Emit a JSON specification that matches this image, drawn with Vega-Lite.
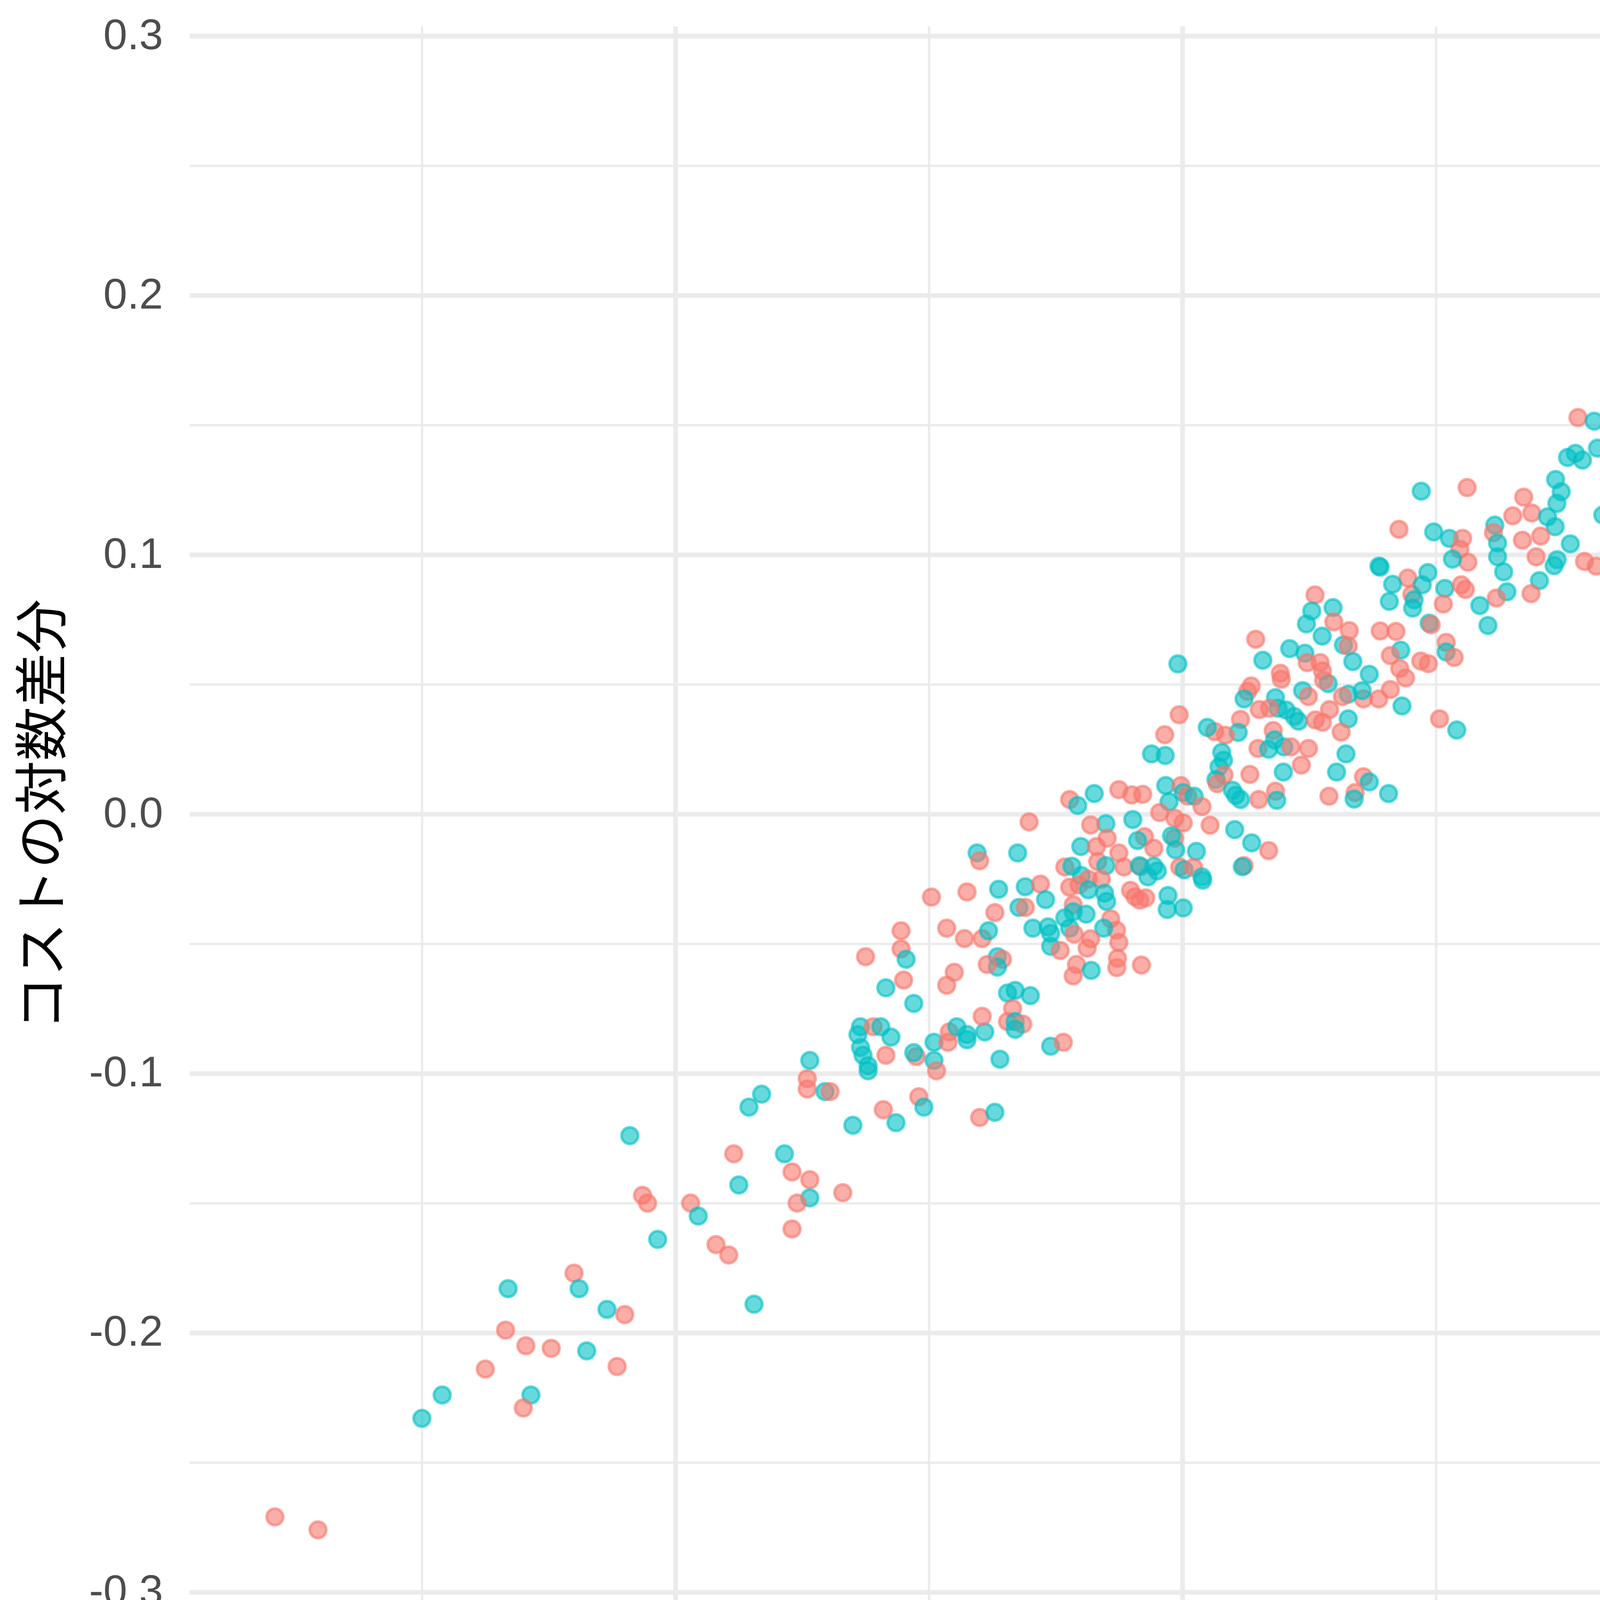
{
  "$schema": "https://vega.github.io/schema/vega-lite/v6.json",
  "description": "Scatter of log-differenced sales vs cost, large vs small firms.",
  "width": 4859,
  "height": 4036,
  "autosize": {"type": "none"},
  "padding": {"left": 485, "top": 67, "right": 956, "bottom": 397},
  "background": "white",
  "config": {
    "view": {"stroke": null},
    "axis": {
      "domain": false,
      "ticks": false,
      "gridColor": "#EBEBEB",
      "labelFont": "Liberation Sans",
      "labelFontSize": 110,
      "labelColor": "#4D4D4D",
      "labelLimit": 0,
      "titleFont": "Noto Sans CJK JP",
      "titleFontSize": 138,
      "titleFontWeight": "normal",
      "titleColor": "#000000"
    }
  },
  "data": {
    "values": [
      {"x": -0.218, "y": -0.124, "g": "小企業"},
      {"x": -0.213, "y": -0.147, "g": "大企業"},
      {"x": -0.211, "y": -0.150, "g": "大企業"},
      {"x": -0.194, "y": -0.150, "g": "大企業"},
      {"x": -0.191, "y": -0.155, "g": "小企業"},
      {"x": -0.207, "y": -0.164, "g": "小企業"},
      {"x": -0.240, "y": -0.177, "g": "大企業"},
      {"x": -0.238, "y": -0.183, "g": "小企業"},
      {"x": -0.266, "y": -0.183, "g": "小企業"},
      {"x": -0.227, "y": -0.191, "g": "小企業"},
      {"x": -0.220, "y": -0.193, "g": "大企業"},
      {"x": -0.267, "y": -0.199, "g": "大企業"},
      {"x": -0.259, "y": -0.205, "g": "大企業"},
      {"x": -0.249, "y": -0.206, "g": "大企業"},
      {"x": -0.235, "y": -0.207, "g": "小企業"},
      {"x": -0.275, "y": -0.214, "g": "大企業"},
      {"x": -0.223, "y": -0.213, "g": "大企業"},
      {"x": -0.292, "y": -0.224, "g": "小企業"},
      {"x": -0.257, "y": -0.224, "g": "小企業"},
      {"x": -0.260, "y": -0.229, "g": "大企業"},
      {"x": -0.300, "y": -0.233, "g": "小企業"},
      {"x": -0.358, "y": -0.271, "g": "大企業"},
      {"x": -0.341, "y": -0.276, "g": "大企業"},
      {"x": -0.111, "y": -0.045, "g": "大企業"},
      {"x": -0.111, "y": -0.052, "g": "大企業"},
      {"x": -0.109, "y": -0.056, "g": "小企業"},
      {"x": -0.110, "y": -0.064, "g": "大企業"},
      {"x": -0.125, "y": -0.055, "g": "大企業"},
      {"x": -0.117, "y": -0.067, "g": "小企業"},
      {"x": -0.106, "y": -0.073, "g": "小企業"},
      {"x": -0.127, "y": -0.082, "g": "小企業"},
      {"x": -0.128, "y": -0.085, "g": "小企業"},
      {"x": -0.122, "y": -0.082, "g": "大企業"},
      {"x": -0.119, "y": -0.082, "g": "小企業"},
      {"x": -0.115, "y": -0.086, "g": "小企業"},
      {"x": -0.127, "y": -0.090, "g": "小企業"},
      {"x": -0.126, "y": -0.093, "g": "小企業"},
      {"x": -0.124, "y": -0.097, "g": "小企業"},
      {"x": -0.124, "y": -0.099, "g": "小企業"},
      {"x": -0.117, "y": -0.093, "g": "大企業"},
      {"x": -0.105, "y": -0.0935, "g": "大企業"},
      {"x": -0.106, "y": -0.092, "g": "小企業"},
      {"x": -0.104, "y": -0.109, "g": "大企業"},
      {"x": -0.147, "y": -0.095, "g": "小企業"},
      {"x": -0.148, "y": -0.102, "g": "大企業"},
      {"x": -0.148, "y": -0.106, "g": "大企業"},
      {"x": -0.141, "y": -0.107, "g": "小企業"},
      {"x": -0.139, "y": -0.107, "g": "大企業"},
      {"x": -0.166, "y": -0.108, "g": "小企業"},
      {"x": -0.171, "y": -0.113, "g": "小企業"},
      {"x": -0.130, "y": -0.120, "g": "小企業"},
      {"x": -0.118, "y": -0.114, "g": "大企業"},
      {"x": -0.113, "y": -0.119, "g": "小企業"},
      {"x": -0.177, "y": -0.131, "g": "大企業"},
      {"x": -0.157, "y": -0.131, "g": "小企業"},
      {"x": -0.154, "y": -0.138, "g": "大企業"},
      {"x": -0.147, "y": -0.141, "g": "大企業"},
      {"x": -0.175, "y": -0.143, "g": "小企業"},
      {"x": -0.147, "y": -0.148, "g": "小企業"},
      {"x": -0.152, "y": -0.150, "g": "大企業"},
      {"x": -0.134, "y": -0.146, "g": "大企業"},
      {"x": -0.154, "y": -0.160, "g": "大企業"},
      {"x": -0.184, "y": -0.166, "g": "大企業"},
      {"x": -0.179, "y": -0.170, "g": "大企業"},
      {"x": -0.169, "y": -0.189, "g": "小企業"},
      {"x": -0.102, "y": -0.113, "g": "小企業"},
      {"x": -0.098, "y": -0.095, "g": "小企業"},
      {"x": -0.097, "y": -0.099, "g": "大企業"},
      {"x": -0.098, "y": -0.088, "g": "小企業"},
      {"x": -0.092, "y": -0.084, "g": "大企業"},
      {"x": -0.0925, "y": -0.088, "g": "大企業"},
      {"x": -0.089, "y": -0.082, "g": "小企業"},
      {"x": -0.085, "y": -0.085, "g": "小企業"},
      {"x": -0.085, "y": -0.087, "g": "小企業"},
      {"x": -0.078, "y": -0.084, "g": "小企業"},
      {"x": -0.079, "y": -0.078, "g": "大企業"},
      {"x": -0.072, "y": -0.0945, "g": "小企業"},
      {"x": -0.080, "y": -0.117, "g": "大企業"},
      {"x": -0.074, "y": -0.115, "g": "小企業"},
      {"x": -0.099, "y": -0.032, "g": "大企業"},
      {"x": -0.093, "y": -0.044, "g": "大企業"},
      {"x": -0.090, "y": -0.061, "g": "大企業"},
      {"x": -0.093, "y": -0.066, "g": "大企業"},
      {"x": -0.086, "y": -0.048, "g": "大企業"},
      {"x": -0.079, "y": -0.048, "g": "大企業"},
      {"x": -0.0765, "y": -0.045, "g": "小企業"},
      {"x": -0.085, "y": -0.030, "g": "大企業"},
      {"x": -0.081, "y": -0.015, "g": "小企業"},
      {"x": -0.080, "y": -0.018, "g": "大企業"},
      {"x": -0.0605, "y": -0.003, "g": "大企業"},
      {"x": -0.065, "y": -0.015, "g": "小企業"},
      {"x": -0.074, "y": -0.038, "g": "大企業"},
      {"x": -0.0725, "y": -0.029, "g": "小企業"},
      {"x": -0.062, "y": -0.028, "g": "小企業"},
      {"x": -0.056, "y": -0.027, "g": "大企業"},
      {"x": -0.054, "y": -0.033, "g": "小企業"},
      {"x": -0.0645, "y": -0.036, "g": "小企業"},
      {"x": -0.062, "y": -0.036, "g": "大企業"},
      {"x": -0.059, "y": -0.044, "g": "小企業"},
      {"x": -0.053, "y": -0.0435, "g": "小企業"},
      {"x": -0.052, "y": -0.046, "g": "小企業"},
      {"x": -0.052, "y": -0.051, "g": "小企業"},
      {"x": -0.073, "y": -0.055, "g": "小企業"},
      {"x": -0.071, "y": -0.056, "g": "大企業"},
      {"x": -0.073, "y": -0.059, "g": "小企業"},
      {"x": -0.077, "y": -0.058, "g": "大企業"},
      {"x": -0.069, "y": -0.069, "g": "小企業"},
      {"x": -0.066, "y": -0.068, "g": "小企業"},
      {"x": -0.060, "y": -0.070, "g": "小企業"},
      {"x": -0.067, "y": -0.075, "g": "大企業"},
      {"x": -0.069, "y": -0.080, "g": "大企業"},
      {"x": -0.066, "y": -0.080, "g": "小企業"},
      {"x": -0.063, "y": -0.081, "g": "大企業"},
      {"x": -0.066, "y": -0.083, "g": "小企業"},
      {"x": -0.052, "y": -0.0895, "g": "小企業"},
      {"x": -0.047, "y": -0.088, "g": "大企業"},
      {"x": -0.0018, "y": 0.0579, "g": "小企業"},
      {"x": 0.0423, "y": 0.0638, "g": "小企業"},
      {"x": 0.0483, "y": 0.062, "g": "小企業"},
      {"x": 0.0492, "y": 0.0584, "g": "大企業"},
      {"x": 0.0543, "y": 0.0584, "g": "大企業"},
      {"x": 0.0552, "y": 0.0552, "g": "大企業"},
      {"x": 0.0635, "y": 0.0652, "g": "小企業"},
      {"x": 0.0654, "y": 0.0648, "g": "大企業"},
      {"x": 0.0861, "y": 0.0632, "g": "小企業"},
      {"x": 0.082, "y": 0.0611, "g": "大企業"},
      {"x": 0.0857, "y": 0.0561, "g": "大企業"},
      {"x": 0.088, "y": 0.0525, "g": "大企業"},
      {"x": 0.0317, "y": 0.0593, "g": "小企業"},
      {"x": 0.0386, "y": 0.0543, "g": "大企業"},
      {"x": 0.039, "y": 0.052, "g": "大企業"},
      {"x": 0.0672, "y": 0.0588, "g": "小企業"},
      {"x": 0.0737, "y": 0.0539, "g": "小企業"},
      {"x": 0.082, "y": 0.048, "g": "大企業"},
      {"x": 0.0866, "y": 0.0417, "g": "小企業"},
      {"x": 0.0774, "y": 0.0444, "g": "大企業"},
      {"x": 0.0714, "y": 0.0444, "g": "大企業"},
      {"x": 0.0709, "y": 0.0476, "g": "小企業"},
      {"x": 0.0654, "y": 0.0462, "g": "小企業"},
      {"x": 0.0631, "y": 0.0453, "g": "大企業"},
      {"x": 0.0575, "y": 0.0503, "g": "小企業"},
      {"x": 0.0557, "y": 0.0516, "g": "大企業"},
      {"x": 0.0474, "y": 0.0476, "g": "小企業"},
      {"x": 0.0497, "y": 0.0453, "g": "大企業"},
      {"x": 0.0367, "y": 0.0449, "g": "小企業"},
      {"x": 0.0377, "y": 0.0408, "g": "小企業"},
      {"x": 0.0409, "y": 0.0401, "g": "小企業"},
      {"x": 0.0441, "y": 0.0376, "g": "小企業"},
      {"x": 0.0458, "y": 0.0358, "g": "小企業"},
      {"x": 0.058, "y": 0.0403, "g": "大企業"},
      {"x": 0.0524, "y": 0.0363, "g": "大企業"},
      {"x": 0.0552, "y": 0.0354, "g": "大企業"},
      {"x": 0.0654, "y": 0.0367, "g": "小企業"},
      {"x": 0.0626, "y": 0.0316, "g": "大企業"},
      {"x": 0.0271, "y": 0.0494, "g": "大企業"},
      {"x": 0.0257, "y": 0.0473, "g": "大企業"},
      {"x": 0.0243, "y": 0.0444, "g": "小企業"},
      {"x": 0.0303, "y": 0.0403, "g": "大企業"},
      {"x": 0.0344, "y": 0.0408, "g": "大企業"},
      {"x": 0.0229, "y": 0.0365, "g": "大企業"},
      {"x": 0.022, "y": 0.0315, "g": "小企業"},
      {"x": 0.0169, "y": 0.0304, "g": "大企業"},
      {"x": 0.0127, "y": 0.0318, "g": "大企業"},
      {"x": 0.0098, "y": 0.0334, "g": "小企業"},
      {"x": -0.0013, "y": 0.0383, "g": "大企業"},
      {"x": -0.007, "y": 0.0306, "g": "大企業"},
      {"x": -0.0122, "y": 0.0232, "g": "小企業"},
      {"x": -0.0068, "y": 0.0226, "g": "小企業"},
      {"x": 0.0358, "y": 0.0322, "g": "大企業"},
      {"x": 0.0363, "y": 0.0286, "g": "小企業"},
      {"x": 0.0298, "y": 0.0253, "g": "大企業"},
      {"x": 0.034, "y": 0.025, "g": "小企業"},
      {"x": 0.04, "y": 0.0259, "g": "小企業"},
      {"x": 0.0428, "y": 0.0259, "g": "大企業"},
      {"x": 0.0497, "y": 0.0253, "g": "大企業"},
      {"x": 0.0469, "y": 0.0189, "g": "大企業"},
      {"x": 0.0398, "y": 0.0162, "g": "小企業"},
      {"x": 0.0645, "y": 0.0232, "g": "小企業"},
      {"x": 0.0608, "y": 0.0162, "g": "小企業"},
      {"x": 0.0714, "y": 0.0144, "g": "大企業"},
      {"x": 0.0737, "y": 0.0124, "g": "小企業"},
      {"x": 0.0813, "y": 0.0079, "g": "小企業"},
      {"x": 0.0578, "y": 0.0069, "g": "大企業"},
      {"x": 0.0681, "y": 0.0083, "g": "大企業"},
      {"x": 0.0677, "y": 0.0058, "g": "小企業"},
      {"x": 0.0266, "y": 0.0153, "g": "大企業"},
      {"x": 0.0155, "y": 0.0238, "g": "小企業"},
      {"x": 0.0162, "y": 0.0208, "g": "小企業"},
      {"x": 0.0144, "y": 0.0182, "g": "小企業"},
      {"x": 0.0164, "y": 0.0151, "g": "大企業"},
      {"x": 0.0132, "y": 0.0133, "g": "小企業"},
      {"x": 0.0137, "y": 0.0117, "g": "大企業"},
      {"x": 0.0197, "y": 0.0092, "g": "小企業"},
      {"x": 0.021, "y": 0.0072, "g": "小企業"},
      {"x": 0.0229, "y": 0.0056, "g": "小企業"},
      {"x": 0.0301, "y": 0.0056, "g": "大企業"},
      {"x": 0.0367, "y": 0.0088, "g": "大企業"},
      {"x": 0.0372, "y": 0.0053, "g": "小企業"},
      {"x": -0.0348, "y": 0.0079, "g": "小企業"},
      {"x": -0.0445, "y": 0.0056, "g": "大企業"},
      {"x": -0.0413, "y": 0.0033, "g": "小企業"},
      {"x": -0.0251, "y": 0.0094, "g": "大企業"},
      {"x": -0.02, "y": 0.0074, "g": "大企業"},
      {"x": -0.0157, "y": 0.0076, "g": "大企業"},
      {"x": -0.0066, "y": 0.011, "g": "小企業"},
      {"x": -0.0006, "y": 0.011, "g": "大企業"},
      {"x": 0.0003, "y": 0.0083, "g": "小企業"},
      {"x": 0.0021, "y": 0.0069, "g": "大企業"},
      {"x": 0.0046, "y": 0.0069, "g": "小企業"},
      {"x": -0.0053, "y": 0.0047, "g": "小企業"},
      {"x": 0.0077, "y": 0.0029, "g": "大企業"},
      {"x": -0.009, "y": 0.0006, "g": "大企業"},
      {"x": -0.003, "y": -0.0016, "g": "大企業"},
      {"x": 0.0003, "y": -0.0034, "g": "大企業"},
      {"x": 0.0109, "y": -0.0043, "g": "大企業"},
      {"x": 0.0206, "y": -0.006, "g": "小企業"},
      {"x": 0.0273, "y": -0.0111, "g": "小企業"},
      {"x": 0.034, "y": -0.0141, "g": "大企業"},
      {"x": 0.0243, "y": -0.0199, "g": "大企業"},
      {"x": 0.0236, "y": -0.0203, "g": "小企業"},
      {"x": -0.0196, "y": -0.0021, "g": "小企業"},
      {"x": -0.0302, "y": -0.0037, "g": "小企業"},
      {"x": -0.0362, "y": -0.0042, "g": "大企業"},
      {"x": -0.0297, "y": -0.0093, "g": "大企業"},
      {"x": -0.015, "y": -0.0087, "g": "大企業"},
      {"x": -0.0177, "y": -0.0102, "g": "小企業"},
      {"x": -0.0113, "y": -0.0132, "g": "大企業"},
      {"x": -0.0031, "y": -0.0093, "g": "大企業"},
      {"x": -0.0043, "y": -0.0084, "g": "小企業"},
      {"x": -0.0027, "y": -0.0138, "g": "小企業"},
      {"x": 0.0055, "y": -0.0144, "g": "小企業"},
      {"x": -0.0401, "y": -0.0125, "g": "小企業"},
      {"x": -0.0339, "y": -0.0125, "g": "大企業"},
      {"x": -0.0251, "y": -0.015, "g": "大企業"},
      {"x": -0.0334, "y": -0.0183, "g": "大企業"},
      {"x": -0.0302, "y": -0.0199, "g": "小企業"},
      {"x": -0.0231, "y": -0.0204, "g": "大企業"},
      {"x": -0.0165, "y": -0.0203, "g": "大企業"},
      {"x": -0.017, "y": -0.0199, "g": "小企業"},
      {"x": -0.0113, "y": -0.0201, "g": "小企業"},
      {"x": -0.0136, "y": -0.0242, "g": "小企業"},
      {"x": -0.0099, "y": -0.0219, "g": "小企業"},
      {"x": -0.0011, "y": -0.0204, "g": "大企業"},
      {"x": 0.0007, "y": -0.0215, "g": "小企業"},
      {"x": 0.0044, "y": -0.0206, "g": "大企業"},
      {"x": 0.0077, "y": -0.0242, "g": "小企業"},
      {"x": 0.008, "y": -0.0255, "g": "小企業"},
      {"x": -0.0464, "y": -0.0204, "g": "大企業"},
      {"x": -0.0436, "y": -0.0201, "g": "小企業"},
      {"x": -0.032, "y": -0.0251, "g": "大企業"},
      {"x": -0.0399, "y": -0.0237, "g": "小企業"},
      {"x": -0.0371, "y": -0.0251, "g": "大企業"},
      {"x": -0.0445, "y": -0.0282, "g": "大企業"},
      {"x": -0.0408, "y": -0.0273, "g": "大企業"},
      {"x": -0.0371, "y": -0.0292, "g": "小企業"},
      {"x": -0.0307, "y": -0.0305, "g": "小企業"},
      {"x": -0.0299, "y": -0.0337, "g": "小企業"},
      {"x": -0.0205, "y": -0.0294, "g": "大企業"},
      {"x": -0.0187, "y": -0.0319, "g": "大企業"},
      {"x": -0.0168, "y": -0.0332, "g": "大企業"},
      {"x": -0.0145, "y": -0.0323, "g": "大企業"},
      {"x": -0.0057, "y": -0.0314, "g": "小企業"},
      {"x": -0.006, "y": -0.0368, "g": "小企業"},
      {"x": 0.0003, "y": -0.0362, "g": "小企業"},
      {"x": -0.0431, "y": -0.035, "g": "大企業"},
      {"x": -0.0431, "y": -0.0377, "g": "小企業"},
      {"x": -0.038, "y": -0.0386, "g": "小企業"},
      {"x": -0.0464, "y": -0.04, "g": "小企業"},
      {"x": -0.0283, "y": -0.0404, "g": "大企業"},
      {"x": -0.026, "y": -0.0448, "g": "大企業"},
      {"x": -0.0311, "y": -0.044, "g": "小企業"},
      {"x": -0.0445, "y": -0.044, "g": "小企業"},
      {"x": -0.0427, "y": -0.0463, "g": "大企業"},
      {"x": -0.0362, "y": -0.0481, "g": "大企業"},
      {"x": -0.0251, "y": -0.0495, "g": "大企業"},
      {"x": -0.0482, "y": -0.0526, "g": "大企業"},
      {"x": -0.0376, "y": -0.0517, "g": "大企業"},
      {"x": -0.0256, "y": -0.0556, "g": "大企業"},
      {"x": -0.0418, "y": -0.058, "g": "大企業"},
      {"x": -0.036, "y": -0.0603, "g": "小企業"},
      {"x": -0.0431, "y": -0.0624, "g": "大企業"},
      {"x": -0.0259, "y": -0.0592, "g": "大企業"},
      {"x": -0.0162, "y": -0.0582, "g": "大企業"},
      {"x": 0.1729, "y": 0.171, "g": "小企業"},
      {"x": 0.1844, "y": 0.1589, "g": "小企業"},
      {"x": 0.156, "y": 0.1529, "g": "大企業"},
      {"x": 0.1624, "y": 0.1515, "g": "小企業"},
      {"x": 0.1799, "y": 0.1449, "g": "大企業"},
      {"x": 0.1637, "y": 0.1411, "g": "小企業"},
      {"x": 0.155, "y": 0.1391, "g": "小企業"},
      {"x": 0.1519, "y": 0.1375, "g": "小企業"},
      {"x": 0.1578, "y": 0.1365, "g": "小企業"},
      {"x": 0.1472, "y": 0.129, "g": "小企業"},
      {"x": 0.1494, "y": 0.1243, "g": "小企業"},
      {"x": 0.1477, "y": 0.1198, "g": "小企業"},
      {"x": 0.0942, "y": 0.1245, "g": "小企業"},
      {"x": 0.1123, "y": 0.1259, "g": "大企業"},
      {"x": 0.1346, "y": 0.1222, "g": "大企業"},
      {"x": 0.1303, "y": 0.115, "g": "大企業"},
      {"x": 0.1378, "y": 0.1161, "g": "大企業"},
      {"x": 0.144, "y": 0.1146, "g": "小企業"},
      {"x": 0.147, "y": 0.1108, "g": "小企業"},
      {"x": 0.1658, "y": 0.1153, "g": "小企業"},
      {"x": 0.1735, "y": 0.109, "g": "大企業"},
      {"x": 0.0854, "y": 0.1098, "g": "大企業"},
      {"x": 0.0991, "y": 0.1088, "g": "小企業"},
      {"x": 0.1053, "y": 0.1063, "g": "小企業"},
      {"x": 0.1105, "y": 0.1063, "g": "大企業"},
      {"x": 0.1094, "y": 0.1021, "g": "大企業"},
      {"x": 0.1126, "y": 0.0971, "g": "大企業"},
      {"x": 0.1065, "y": 0.0983, "g": "小企業"},
      {"x": 0.1232, "y": 0.1114, "g": "小企業"},
      {"x": 0.1227, "y": 0.1085, "g": "大企業"},
      {"x": 0.1243, "y": 0.1045, "g": "小企業"},
      {"x": 0.1243, "y": 0.0992, "g": "小企業"},
      {"x": 0.1267, "y": 0.0934, "g": "小企業"},
      {"x": 0.1341, "y": 0.1056, "g": "大企業"},
      {"x": 0.1413, "y": 0.1072, "g": "大企業"},
      {"x": 0.1395, "y": 0.0992, "g": "大企業"},
      {"x": 0.1478, "y": 0.0981, "g": "小企業"},
      {"x": 0.153, "y": 0.1042, "g": "小企業"},
      {"x": 0.1466, "y": 0.0958, "g": "小企業"},
      {"x": 0.1586, "y": 0.0974, "g": "大企業"},
      {"x": 0.1632, "y": 0.0956, "g": "大企業"},
      {"x": 0.1408, "y": 0.09, "g": "小企業"},
      {"x": 0.1375, "y": 0.085, "g": "大企業"},
      {"x": 0.128, "y": 0.0857, "g": "小企業"},
      {"x": 0.1238, "y": 0.0833, "g": "大企業"},
      {"x": 0.1173, "y": 0.0804, "g": "小企業"},
      {"x": 0.1205, "y": 0.0727, "g": "小企業"},
      {"x": 0.0775, "y": 0.0956, "g": "小企業"},
      {"x": 0.078, "y": 0.0952, "g": "小企業"},
      {"x": 0.0889, "y": 0.091, "g": "大企業"},
      {"x": 0.0905, "y": 0.0847, "g": "大企業"},
      {"x": 0.0829, "y": 0.0886, "g": "小企業"},
      {"x": 0.0968, "y": 0.0931, "g": "小企業"},
      {"x": 0.0946, "y": 0.0884, "g": "小企業"},
      {"x": 0.0914, "y": 0.0826, "g": "小企業"},
      {"x": 0.0908, "y": 0.0794, "g": "小企業"},
      {"x": 0.0816, "y": 0.082, "g": "小企業"},
      {"x": 0.1035, "y": 0.087, "g": "小企業"},
      {"x": 0.11, "y": 0.0884, "g": "大企業"},
      {"x": 0.1116, "y": 0.0866, "g": "大企業"},
      {"x": 0.1029, "y": 0.081, "g": "大企業"},
      {"x": 0.0973, "y": 0.0736, "g": "小企業"},
      {"x": 0.0981, "y": 0.073, "g": "大企業"},
      {"x": 0.0523, "y": 0.0845, "g": "大企業"},
      {"x": 0.051, "y": 0.0783, "g": "小企業"},
      {"x": 0.0594, "y": 0.0796, "g": "小企業"},
      {"x": 0.0489, "y": 0.0733, "g": "小企業"},
      {"x": 0.0597, "y": 0.0741, "g": "大企業"},
      {"x": 0.0551, "y": 0.0686, "g": "小企業"},
      {"x": 0.0658, "y": 0.0707, "g": "大企業"},
      {"x": 0.078, "y": 0.0706, "g": "大企業"},
      {"x": 0.0842, "y": 0.0704, "g": "大企業"},
      {"x": 0.0289, "y": 0.0674, "g": "大企業"},
      {"x": 0.104, "y": 0.0662, "g": "大企業"},
      {"x": 0.104, "y": 0.0625, "g": "小企業"},
      {"x": 0.1072, "y": 0.0604, "g": "大企業"},
      {"x": 0.094, "y": 0.059, "g": "大企業"},
      {"x": 0.097, "y": 0.058, "g": "大企業"},
      {"x": 0.1014, "y": 0.0367, "g": "大企業"},
      {"x": 0.1082, "y": 0.0324, "g": "小企業"},
      {"x": 0.323, "y": 0.2761, "g": "小企業"},
      {"x": 0.2188, "y": 0.2076, "g": "大企業"},
      {"x": 0.2111, "y": 0.1907, "g": "大企業"},
      {"x": 0.1959, "y": 0.1764, "g": "小企業"},
      {"x": 0.2057, "y": 0.1631, "g": "小企業"},
      {"x": 0.223, "y": 0.163, "g": "小企業"},
      {"x": 0.235, "y": 0.1678, "g": "小企業"}
    ]
  },
  "mark": {"type": "circle", "size": 1810, "strokeWidth": 7, "fillOpacity": 0.6, "strokeOpacity": 0.6},
  "encoding": {
    "x": {
      "field": "x",
      "type": "quantitative",
      "title": "売上高の対数差分",
      "scale": {"domain": [-0.3917, 0.357], "nice": false, "zero": false},
      "axis": {
        "values": [-0.3, -0.2, -0.1, 0, 0.1, 0.2, 0.3],
        "labelExpr": "datum.value == -0.2 ? '-0.2' : datum.value == 0 ? '0.0' : datum.value == 0.2 ? '0.2' : ''",
        "labelPadding": 55,
        "gridWidth": {"condition": {"test": "datum.value == -0.2 || datum.value == 0 || datum.value == 0.2", "value": 12}, "value": 6},
        "titleY": 263,
        "titleBaseline": "middle"
      }
    },
    "y": {
      "field": "y",
      "type": "quantitative",
      "title": "コストの対数差分",
      "scale": {"domain": [-0.3041, 0.3038], "nice": false, "zero": false},
      "axis": {
        "values": [-0.3, -0.25, -0.2, -0.15, -0.1, -0.05, 0, 0.05, 0.1, 0.15, 0.2, 0.25, 0.3],
        "labelExpr": "indexof([-0.3, -0.2, -0.1, 0, 0.1, 0.2, 0.3], datum.value) >= 0 ? replace(format(datum.value, '.1f'), '−', '-') : ''",
        "labelPadding": 68,
        "gridWidth": {"condition": {"test": "indexof([-0.3, -0.2, -0.1, 0, 0.1, 0.2, 0.3], datum.value) >= 0", "value": 12}, "value": 6},
        "titleX": -371,
        "titleY": 2018,
        "titleAlign": "center",
        "titleBaseline": "middle",
        "titleAngle": -90
      }
    },
    "fill": {
      "field": "g",
      "type": "nominal",
      "scale": {"domain": ["大企業", "小企業"], "range": ["#F8766D", "#00BFC4"]},
      "legend": {
        "title": null,
        "orient": "none",
        "legendX": 5128,
        "legendY": 1851,
        "padding": 0,
        "symbolType": "circle",
        "symbolSize": 1810,
        "symbolStrokeWidth": 7,
        "labelFont": "Noto Sans CJK JP",
        "labelFontSize": 108,
        "labelColor": "#000000",
        "labelLimit": 0,
        "labelOffset": 127,
        "rowPadding": 98,
        "encode": {"symbols": {"update": {"fillOpacity": {"value": 0.6}, "strokeOpacity": {"value": 0.6}}}}
      }
    },
    "stroke": {
      "field": "g",
      "type": "nominal",
      "scale": {"domain": ["大企業", "小企業"], "range": ["#F8766D", "#00BFC4"]},
      "legend": {
        "title": null,
        "orient": "none",
        "legendX": 5128,
        "legendY": 1851,
        "padding": 0,
        "symbolType": "circle",
        "symbolSize": 1810,
        "symbolStrokeWidth": 7,
        "labelFont": "Noto Sans CJK JP",
        "labelFontSize": 108,
        "labelColor": "#000000",
        "labelLimit": 0,
        "labelOffset": 127,
        "rowPadding": 98,
        "encode": {"symbols": {"update": {"fillOpacity": {"value": 0.6}, "strokeOpacity": {"value": 0.6}}}}
      }
    }
  }
}
